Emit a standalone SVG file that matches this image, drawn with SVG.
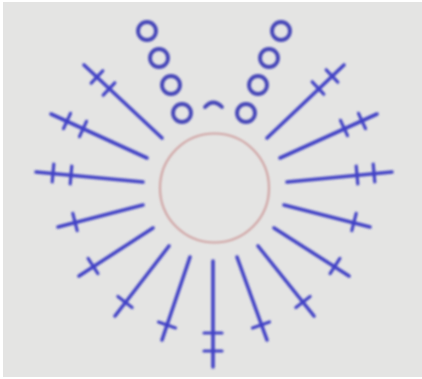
<svg xmlns="http://www.w3.org/2000/svg" width="422" height="379" viewBox="0 0 422 379">
<defs><filter id="soft" x="-10%" y="-10%" width="120%" height="120%"><feGaussianBlur stdDeviation="0.8"/></filter></defs>
<style>
.ray line{stroke:#4242c6;fill:none;stroke-linecap:round}
.s{stroke-width:3.600}
.t{stroke-width:3.200}
.dot{fill:none;stroke:#4444b8;stroke-width:3.800}
</style>
<rect width="422" height="379" fill="#ffffff"/>
<rect x="3" y="2" width="419" height="375" fill="#e4e4e3"/>
<g filter="url(#soft)">
<g id="center"><circle cx="214.500" cy="188" r="54.500" fill="none" stroke="#d0a4a4" stroke-width="2.200"/></g>
<g id="dots">
<circle class="dot" cx="147" cy="31" r="9"/>
<circle class="dot" cx="159" cy="58" r="9"/>
<circle class="dot" cx="171" cy="85" r="9"/>
<circle class="dot" cx="182" cy="113" r="9"/>
<circle class="dot" cx="281" cy="31" r="9"/>
<circle class="dot" cx="269" cy="58" r="9"/>
<circle class="dot" cx="258" cy="85" r="9"/>
<circle class="dot" cx="246" cy="113" r="9"/>
<path class="dot" d="M205 107Q213 98 222 107" stroke-linecap="round"/>
</g>
<g id="connectors" class="ray">
<line class="s" x1="84" y1="65" x2="162" y2="138"/>
<line class="t" x1="91.200" y1="83.200" x2="102.800" y2="70.800"/>
<line class="t" x1="103.200" y1="95.200" x2="114.800" y2="82.800"/>
<line class="s" x1="51" y1="114" x2="147" y2="158"/>
<line class="t" x1="63.500" y1="128.700" x2="70.500" y2="113.300"/>
<line class="t" x1="79.500" y1="136.700" x2="86.500" y2="121.300"/>
<line class="s" x1="36" y1="172" x2="143" y2="182"/>
<line class="t" x1="52.200" y1="182" x2="53.800" y2="164"/>
<line class="t" x1="70.200" y1="184" x2="71.800" y2="166"/>
<line class="s" x1="267" y1="138" x2="344" y2="65"/>
<line class="t" x1="312.200" y1="81.800" x2="323.800" y2="94.200"/>
<line class="t" x1="326.200" y1="69.800" x2="337.800" y2="82.200"/>
<line class="s" x1="280" y1="158" x2="377" y2="114"/>
<line class="t" x1="340.500" y1="120.300" x2="347.500" y2="135.700"/>
<line class="t" x1="358.500" y1="113.300" x2="365.500" y2="128.700"/>
<line class="s" x1="287" y1="182" x2="392" y2="172"/>
<line class="t" x1="356.200" y1="166" x2="357.800" y2="184"/>
<line class="t" x1="373.200" y1="164" x2="374.800" y2="182"/>
<line class="s" x1="143" y1="205" x2="58" y2="227"/>
<line class="t" x1="72.800" y1="213.300" x2="77.200" y2="230.700"/>
<line class="s" x1="153" y1="228" x2="79" y2="276"/>
<line class="t" x1="88.100" y1="258.400" x2="97.900" y2="273.600"/>
<line class="s" x1="169" y1="246" x2="115" y2="316"/>
<line class="t" x1="117.900" y1="296.500" x2="132.100" y2="307.500"/>
<line class="s" x1="190" y1="257" x2="162" y2="340"/>
<line class="t" x1="158.500" y1="322.100" x2="175.500" y2="327.900"/>
<line class="s" x1="213" y1="261" x2="213" y2="367"/>
<line class="t" x1="204" y1="333" x2="222" y2="333"/>
<line class="t" x1="204" y1="351" x2="222" y2="351"/>
<line class="s" x1="237" y1="257" x2="267" y2="340"/>
<line class="t" x1="269.500" y1="322" x2="252.500" y2="328"/>
<line class="s" x1="258" y1="246" x2="314" y2="316"/>
<line class="t" x1="310.100" y1="296.500" x2="295.900" y2="307.500"/>
<line class="s" x1="274" y1="228" x2="349" y2="276"/>
<line class="t" x1="339.900" y1="258.400" x2="330.100" y2="273.600"/>
<line class="s" x1="284" y1="205" x2="370" y2="227"/>
<line class="t" x1="356.200" y1="213.300" x2="351.800" y2="230.700"/>
</g>
</g>
</svg>
